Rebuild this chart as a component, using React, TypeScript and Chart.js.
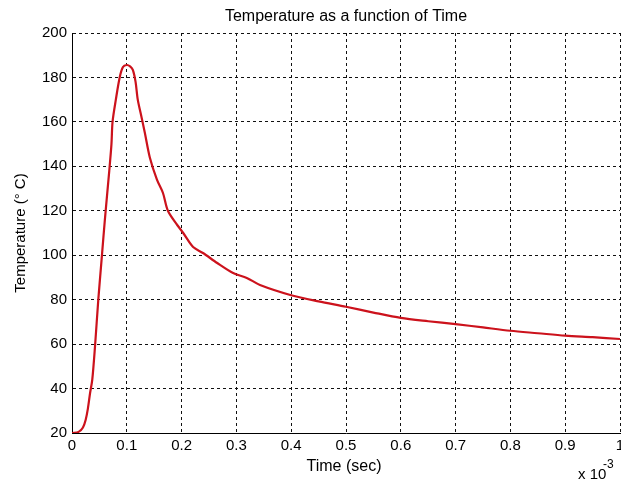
import React, { useEffect, useRef } from "react";
import { Chart, registerables } from "chart.js";

Chart.register(...registerables);

// Time in units of 1e-3 s
const timeValues = [0, 0.012, 0.02, 0.025, 0.029, 0.033, 0.037, 0.042, 0.048, 0.054, 0.06, 0.068, 0.072, 0.074, 0.08, 0.087, 0.093, 0.1, 0.106, 0.111, 0.116, 0.12, 0.127, 0.133, 0.142, 0.155, 0.166, 0.175, 0.192, 0.203, 0.221, 0.239, 0.265, 0.294, 0.319, 0.343, 0.4, 0.45, 0.5, 0.55, 0.6, 0.65, 0.7, 0.75, 0.8, 0.85, 0.9, 0.95, 1.0];
const temperatureValues = [20, 20.5, 22.5, 26, 31, 38, 44, 59, 80, 98, 116, 138, 150, 160, 170, 180, 184.7, 185.6, 185, 183.4, 178, 170, 162, 155, 144, 134, 128, 120, 113.6, 110, 103.7, 101, 96.5, 92, 89.8, 86.6, 82, 79.2, 76.8, 74.2, 71.8, 70.3, 69, 67.5, 66, 64.9, 63.8, 63.1, 62.3];
const xTickValues = [0, 0.1, 0.2, 0.3, 0.4, 0.5, 0.6, 0.7, 0.8, 0.9, 1];
const yTickValues = [20, 40, 60, 80, 100, 120, 140, 160, 180, 200];

const titleText = "Temperature as a function of Time";
const xTitleText = "Time (sec)";
const yTitleText = "Temperature (\u00B0 C)";
const exponentBase = "x 10";
const exponentPower = "-3";

const FONT = "'Liberation Sans', Arial, Helvetica, sans-serif";

const textPlugin = {
  id: "matlabTexts",
  afterDraw(chart: any) {
    const { ctx, chartArea } = chart;
    const cx = (chartArea.left + chartArea.right) / 2;
    ctx.save();
    ctx.fillStyle = "#000";
    ctx.textAlign = "center";
    ctx.textBaseline = "alphabetic";
    ctx.font = `16px ${FONT}`;
    ctx.fillText(titleText, cx, 21);
    ctx.font = `16px ${FONT}`;
    ctx.fillText(xTitleText, cx - 2, 471);
    ctx.save();
    ctx.translate(25, (chartArea.top + chartArea.bottom) / 2);
    ctx.rotate(-Math.PI / 2);
    ctx.font = `15px ${FONT}`;
    ctx.fillText(yTitleText, 0, 0);
    ctx.restore();
    ctx.textAlign = "left";
    ctx.font = `15px ${FONT}`;
    ctx.fillText(exponentBase, 578, 479);
    ctx.font = `12px ${FONT}`;
    ctx.fillText(exponentPower, 603, 468);
    ctx.restore();
  },
};

export default function App() {
  const ref = useRef<HTMLCanvasElement | null>(null);
  useEffect(() => {
    if (!ref.current) return;
    const points = timeValues.map((t, i) => ({ x: t, y: temperatureValues[i] }));
    const chart = new Chart(ref.current, {
      type: "line",
      data: {
        datasets: [
          {
            data: points,
            borderColor: "rgb(204, 18, 28)",
            borderWidth: 2.2,
            pointRadius: 0,
            tension: 0.3,
            fill: false,
          },
        ],
      },
      options: {
        animation: false,
        responsive: false,
        devicePixelRatio: 1,
        layout: { padding: { top: 33, right: 1, left: 0, bottom: 0 } },
        plugins: { legend: { display: false }, tooltip: { enabled: false }, title: { display: false } },
        scales: {
          x: {
            type: "linear",
            min: 0,
            max: 1,
            afterBuildTicks: (scale: any) => {
              scale.ticks = xTickValues.map((v) => ({ value: v }));
            },
            afterFit: (scale: any) => {
              scale.height = 53;
              scale.paddingLeft = 0;
              scale.paddingRight = 0;
            },
            ticks: {
              color: "#000",
              font: { family: FONT, size: 15 },
              padding: 4,
              maxRotation: 0,
              autoSkip: false,
              callback: (v: any) => String(Math.round(Number(v) * 10) / 10),
            },
            grid: { color: "#111", lineWidth: 1, drawTicks: false },
            border: { display: true, color: "#000", width: 1, dash: [3, 3] },
          },
          y: {
            type: "linear",
            min: 20,
            max: 200,
            afterBuildTicks: (scale: any) => {
              scale.ticks = yTickValues.map((v) => ({ value: v }));
            },
            afterFit: (scale: any) => {
              scale.width = 72;
              scale.paddingTop = 0;
              scale.paddingBottom = 0;
            },
            ticks: {
              color: "#000",
              font: { family: FONT, size: 15 },
              padding: 5,
              autoSkip: false,
              callback: (v: any) => String(v),
            },
            grid: { color: "#111", lineWidth: 1, drawTicks: false },
            border: { display: true, color: "#000", width: 1, dash: [3, 3] },
          },
        },
      },
      plugins: [textPlugin],
    });
    return () => chart.destroy();
  }, []);
  return (
    <div style={{ position: "absolute", left: 0, top: 0, width: 621, height: 486, background: "#fff" }}>
      <canvas ref={ref} width={621} height={486} style={{ display: "block" }} />
    </div>
  );
}
